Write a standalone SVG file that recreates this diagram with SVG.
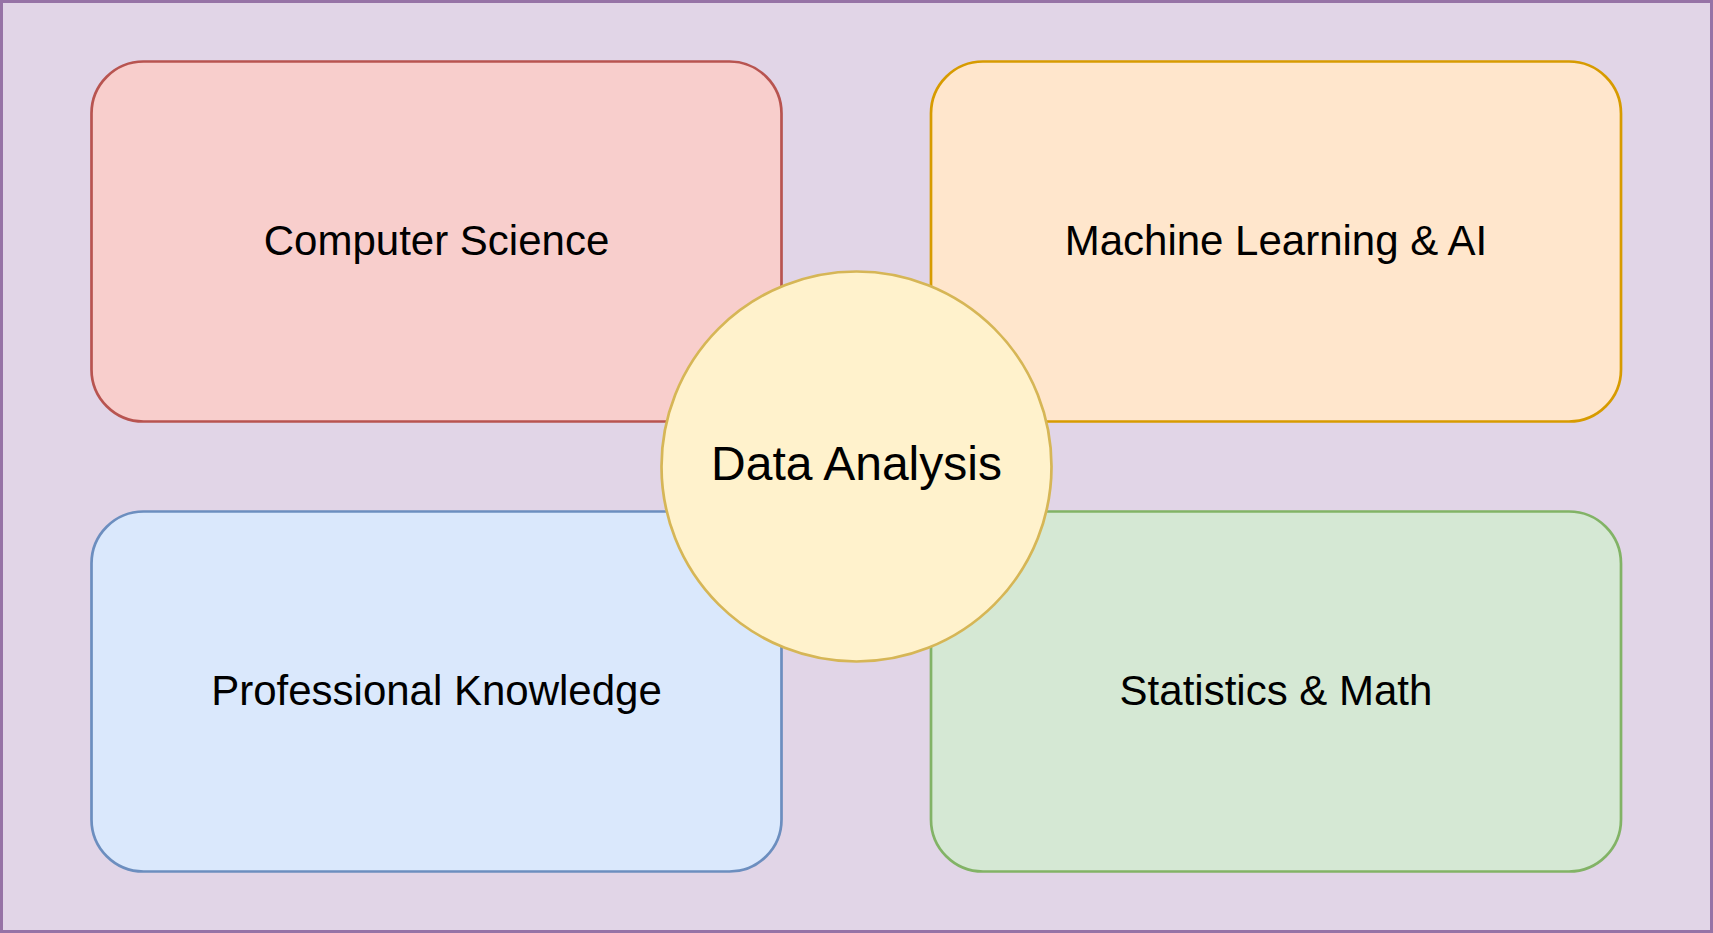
<svg xmlns="http://www.w3.org/2000/svg" width="1713" height="933" viewBox="0 0 1713 933">
  <style>
    .box { stroke-width: 2.7; }
    .lbl { font-family: "Liberation Sans", Arial, Helvetica, sans-serif; font-size: 42px; fill: #000; text-anchor: middle; dominant-baseline: central; }
    .big { font-size: 48px; }
  </style>
  <!-- background frame -->
  <rect id="frame" x="1.5" y="1.5" width="1710" height="930" fill="#e1d5e7" stroke="#9673a6" stroke-width="3"/>

  <g id="computer-science">
    <rect class="box" x="91.5" y="61.5" width="690" height="360" rx="52" ry="52" fill="#f8cecc" stroke="#b85450"/>
    <text class="lbl" x="436.5" y="240">Computer Science</text>
  </g>
  <g id="machine-learning">
    <rect class="box" x="931" y="61.5" width="690" height="360" rx="52" ry="52" fill="#ffe6cc" stroke="#d79b00"/>
    <text class="lbl" x="1276" y="240">Machine Learning &amp; AI</text>
  </g>
  <g id="professional-knowledge">
    <rect class="box" x="91.5" y="511.5" width="690" height="360" rx="52" ry="52" fill="#dae8fc" stroke="#6c8ebf"/>
    <text class="lbl" x="436.5" y="690">Professional Knowledge</text>
  </g>
  <g id="statistics-math">
    <rect class="box" x="931" y="511.5" width="690" height="360" rx="52" ry="52" fill="#d5e8d4" stroke="#82b366"/>
    <text class="lbl" x="1276" y="690">Statistics &amp; Math</text>
  </g>
  <g id="data-analysis">
    <circle class="box" cx="856.5" cy="466.5" r="195" fill="#fff2cc" stroke="#d6b656"/>
    <text class="lbl big" x="856.5" y="463">Data Analysis</text>
  </g>
  <g id="connectors"/>
</svg>
